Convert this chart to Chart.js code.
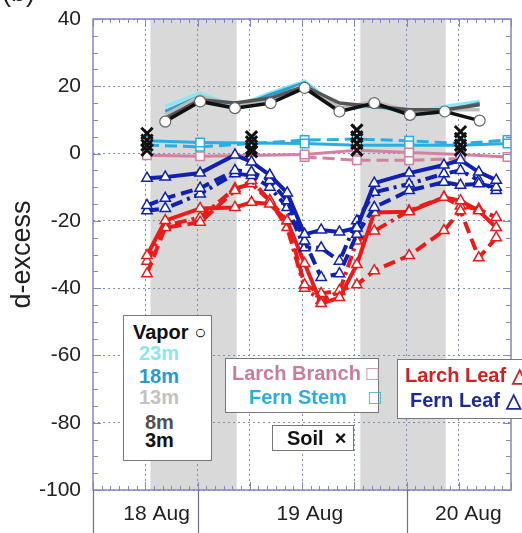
<!DOCTYPE html>
<html>
<head>
<meta charset="utf-8">
<script src="https://cdn.jsdelivr.net/npm/chart.js@4"></script>
<style>
  body { margin: 0; background: #fff; }
  #wrap { position: relative; width: 522px; height: 533px; overflow: hidden; font-family: Arial, "Liberation Sans", sans-serif; }
  #chart { position: absolute; left: 0; top: 0; }
  .box { position: absolute; background: #fff; border: 1.5px solid #777; box-sizing: border-box; }
  .lbl { position: absolute; font-weight: bold; font-size: 20px; white-space: nowrap; line-height: 20px; }
  #panel { position: absolute; left: 2px; top: -23px; font-size: 27px; color: #222; }
</style>
</head>
<body>
<div id="wrap">
  <canvas id="chart" width="522" height="533"></canvas>
  <div id="panel">(b)</div>

  <div class="box" style="left:123px;top:315px;width:89px;height:146px;"></div>
  <div class="lbl" style="left:133px;top:322px;color:#111;">Vapor ○</div>
  <div class="lbl" style="left:139px;top:343px;color:#8fe6ee;">23m</div>
  <div class="lbl" style="left:139px;top:366px;color:#259cd0;">18m</div>
  <div class="lbl" style="left:139px;top:387px;color:#c2c2c2;">13m</div>
  <div class="lbl" style="left:145px;top:412px;color:#505050;">8m</div>
  <div class="lbl" style="left:145px;top:430px;color:#111;">3m</div>

  <div class="box" style="left:225px;top:358px;width:154px;height:55px;"></div>
  <div class="lbl" style="left:232px;top:363px;color:#c97d9d;">Larch Branch&nbsp;□</div>
  <div class="lbl" style="left:249px;top:387px;color:#2aaee0;">Fern Stem&nbsp;&nbsp;&nbsp;&nbsp;□</div>

  <div class="box" style="left:397px;top:359px;width:130px;height:60px;"></div>
  <div class="lbl" style="left:405px;top:365px;color:#d42020;">Larch Leaf △</div>
  <div class="lbl" style="left:410px;top:390px;color:#1c2a9c;">Fern Leaf △</div>

  <div class="box" style="left:272px;top:425px;width:82px;height:26px;"></div>
  <div class="lbl" style="left:287px;top:428px;color:#111;">Soil&nbsp;&nbsp;×</div>
</div>

<script>
// hours counted from 18 Aug 00:00
const gridHours = [18, 24, 30, 36, 42, 48, 54];
const dayLabels = ['18 Aug', '19 Aug', '20 Aug'];
const dayLabelHours = [19.3, 36.9, 55.1];
const dayBounds = [12, 24, 48];
const nightStart = [18.6, 42.7];
const nightEnd = [28.5, 52.5];

// water vapor at five heights
const vaporTimes = [20.3, 24.3, 28.3, 32.4, 36.3, 40.3, 44.3, 48.4, 52.4, 56.4];
const vapor3m  = [9.5, 15.5, 13.5, 15, 19.5, 12.5, 15, 11.5, 12.5, 9.8];
const vapor8m  = [10.5, 16, 15, 16.5, 20, 15, 14, 13, 13, 14.5];
const vapor13m = [11.5, 17, 14.5, 16, 20.5, 13.5, 15.5, 12.5, 13, 13];
const vapor18m = [12.5, 17, 13.5, 17.5, 21, 13, 15, 11.5, 12.5, 15];
const vapor23m = [14, 18, 14, 18, 21.5, 13.5, 14, 12, 14, 15.5];

// stems / branches
const stemTimes = [18.2, 24.3, 36.3, 42.3, 48.3, 54.2, 59.6];
const larchBranchA = [-0.5, -0.8, -0.3, 1, 0.3, -0.3, -1];
const larchBranchB = [null, null, -1, -2, -2, -1.5, null];
const fernStemA = [3.8, 3.3, 3, 2.5, 2.5, 2.5, 3];
const fernStemB = [2.5, 2, 4, 4.3, 3.8, 3, 4];

// leaves
const leafTimes = [18.2, 20.3, 24.3, 28.3, 30.2, 32.3, 34.3, 36.3, 38.2, 40.3, 42.3, 44.3, 48.3, 52.3, 54.2, 56.3, 58.3];
const fernLeafA = [-7.3, -7, -5.8, -0.4, -2.5, -6.4, -11.7, -24, -22.7, -23.3, -22.1, -8.8, -5.8, -3.4, -1.9, -5.5, -7.9];
const fernLeafB = [-15.4, -13.3, -10.3, -5, -5.5, -8, -14, -26, -36.8, -35.7, -24, -16, -11, -8.5, -9.4, -9, -10];
const fernLeafC = [-17, -16.3, -12, -6, -6.5, -10, -16, -28, -28, -32, -20, -11.5, -9, -6, -5, -8, -11];
const larchLeafA = [-30.3, -19.9, -16.3, -16, -14.5, -15, -20, -32.7, -44.6, -42.8, -33, -17.5, -17.3, -13, -14, -17, -22];
const larchLeafB = [-35.7, -22, -20.4, -11, -8, -14, -20, -39, -41.6, -40.7, -39, -34.8, -30.3, -22.9, -17, -31, -25];
const larchLeafC = [-32, -21.4, -19, -10.4, -9, -14, -22, -40, -43.7, -41, -26, -23, -17, -13, -15.6, -16.5, -19];

// soil at several depths
const soilTimes = [18.2, 30.2, 42.3, 54.2];
const soilA = [6, 5, 7, 6.5];
const soilB = [4, 3.5, 5, 4.5];
const soilC = [2.5, 1.5, 3, 2.5];
const soilD = [1, 0.5, 1, 1];

const pts = (xs, ys) => xs.map((x, i) => ({ x: x, y: ys[i] }));

function line(label, xs, ys, color, opts) {
    return Object.assign({
        label: label,
        data: pts(xs, ys),
        borderColor: color,
        backgroundColor: '#fff',
        borderWidth: 4,
        pointBorderColor: color,
        pointBackgroundColor: '#fff',
        pointBorderWidth: 1.5,
        pointRadius: 6,
        pointStyle: 'triangle',
        tension: 0,
        spanGaps: false
    }, opts || {});
}

const DASH = [12, 6];
const DASHDOT = [12, 5, 3, 5];

function vapor(label, ys, color, marks) {
    return line(label, vaporTimes, ys, color, {
        borderWidth: 3.5, pointStyle: 'circle', pointRadius: marks ? 5.5 : 0,
        pointBorderColor: '#666', pointBorderWidth: 1.2
    });
}
function soil(label, ys) {
    return {
        label: label, data: pts(soilTimes, ys), showLine: false,
        pointStyle: 'crossRot', pointRadius: 8, pointBorderWidth: 3,
        pointBorderColor: '#111', borderColor: '#111'
    };
}

const datasets = [
    soil('Soil 1', soilA),
    soil('Soil 2', soilB),
    soil('Soil 3', soilC),
    soil('Soil 4', soilD),
    line('Fern Leaf', leafTimes, fernLeafA, '#1020b0'),
    line('Fern Leaf 2', leafTimes, fernLeafB, '#1020b0', { borderDash: DASH }),
    line('Fern Leaf 3', leafTimes, fernLeafC, '#1020b0', { borderDash: DASHDOT }),
    line('Larch Leaf', leafTimes, larchLeafA, '#ee1a1a'),
    line('Larch Leaf 2', leafTimes, larchLeafB, '#ee1a1a', { borderDash: DASH }),
    line('Larch Leaf 3', leafTimes, larchLeafC, '#ee1a1a', { borderDash: DASHDOT }),
    line('Larch Branch', stemTimes, larchBranchA, '#d4809f', { borderWidth: 3, pointStyle: 'rect' }),
    line('Larch Branch 2', stemTimes, larchBranchB, '#d4809f', { borderWidth: 3, pointStyle: 'rect', borderDash: DASH }),
    line('Fern Stem', stemTimes, fernStemA, '#28aee2', { borderWidth: 3, pointStyle: 'rect' }),
    line('Fern Stem 2', stemTimes, fernStemB, '#28aee2', { borderWidth: 3, pointStyle: 'rect', borderDash: DASH }),
    vapor('3m', vapor3m, '#111111', true),
    vapor('8m', vapor8m, '#555555'),
    vapor('13m', vapor13m, '#bdbdbd'),
    vapor('18m', vapor18m, '#2a9ed2'),
    vapor('23m', vapor23m, '#8ee6f0')
];

const GRID = '#7d8db3';
const FRAME = '#8585cc';

const decor = {
    id: 'decor',
    beforeDraw(chart) {
        const { ctx, chartArea: a, scales: { x } } = chart;
        ctx.save();
        ctx.fillStyle = '#d9d9d9';
        nightStart.forEach((s, i) => {
            const x0 = x.getPixelForValue(s), x1 = x.getPixelForValue(nightEnd[i]);
            ctx.fillRect(x0, a.top, x1 - x0, a.bottom - a.top);
        });
        ctx.restore();
    },
    afterDraw(chart) {
        const { ctx, chartArea: a, scales: { x, y } } = chart;
        ctx.save();
        ctx.strokeStyle = FRAME;
        ctx.lineWidth = 1;
        ctx.beginPath();
        for (let h = 12; h <= 60; h++) {
            const px = Math.round(x.getPixelForValue(h)) + 0.5;
            const len = h % 6 === 0 ? 8 : 4;
            ctx.moveTo(px, a.bottom); ctx.lineTo(px, a.bottom - len);
            ctx.moveTo(px, a.top); ctx.lineTo(px, a.top + len);
        }
        for (let v = -100; v <= 40; v += 5) {
            const py = Math.round(y.getPixelForValue(v)) + 0.5;
            const len = v % 20 === 0 ? 8 : 5;
            ctx.moveTo(a.left, py); ctx.lineTo(a.left + len, py);
            ctx.moveTo(a.right, py); ctx.lineTo(a.right - len, py);
        }
        ctx.stroke();
        ctx.lineWidth = 1.5;
        ctx.strokeRect(a.left, a.top, a.right - a.left, a.bottom - a.top);
        // day separators under the axis
        ctx.strokeStyle = '#6e6e8e';
        ctx.lineWidth = 1.2;
        ctx.beginPath();
        dayBounds.forEach(h => {
            const px = Math.round(x.getPixelForValue(h)) + 0.5;
            ctx.moveTo(px, a.bottom); ctx.lineTo(px, chart.height);
        });
        ctx.stroke();
        ctx.restore();
    }
};

new Chart(document.getElementById('chart'), {
    type: 'line',
    data: { datasets },
    options: {
        responsive: false,
        animation: false,
        devicePixelRatio: 1,
        layout: { padding: { top: 19, right: 7, left: 0, bottom: 0 } },
        plugins: { legend: { display: false }, tooltip: { enabled: false } },
        scales: {
            x: {
                type: 'linear',
                min: 12,
                max: 60,
                afterBuildTicks: (s) => {
                    s.ticks = gridHours.concat(dayLabelHours).sort((a, b) => a - b).map(v => ({ value: v }));
                },
                afterFit: (s) => { s.height = 43; s.paddingLeft = 0; s.paddingRight = 0; },
                ticks: {
                    autoSkip: false,
                    maxRotation: 0,
                    padding: 12,
                    color: '#222',
                    font: { family: 'Arial, "Liberation Sans", sans-serif', size: 21 },
                    callback: (v) => {
                        const i = dayLabelHours.indexOf(v);
                        return i >= 0 ? dayLabels[i] : '';
                    }
                },
                grid: {
                    drawTicks: false,
                    lineWidth: 1,
                    color: (c) => (c.tick && gridHours.includes(c.tick.value)) ? GRID : 'rgba(0,0,0,0)'
                },
                border: { display: false, dash: [2, 3] }
            },
            y: {
                min: -100,
                max: 40,
                afterFit: (s) => { s.width = 93; s.paddingTop = 0; s.paddingBottom = 0; },
                ticks: {
                    stepSize: 20,
                    padding: 12,
                    color: '#222',
                    font: { family: 'Arial, "Liberation Sans", sans-serif', size: 21 }
                },
                title: {
                    display: true,
                    text: 'd-excess',
                    color: '#222',
                    padding: { top: 6, bottom: 0 },
                    font: { family: 'Arial, "Liberation Sans", sans-serif', size: 27 }
                },
                grid: { drawTicks: false, lineWidth: 1, color: GRID },
                border: { display: false, dash: [2, 3] }
            }
        }
    },
    plugins: [decor]
});
</script>
</body>
</html>
